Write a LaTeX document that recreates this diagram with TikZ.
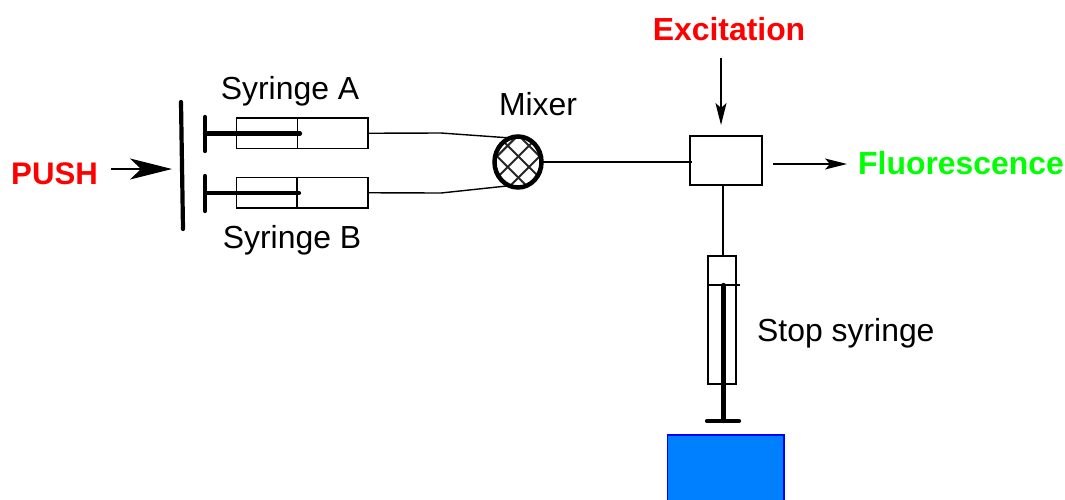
\documentclass[tikz,border=0pt]{standalone}
\usepackage{fontspec}
\setmainfont{Liberation Sans}
\usetikzlibrary{arrows.meta,shapes.geometric}
\definecolor{pushred}{RGB}{255,0,0}
\definecolor{fluogreen}{RGB}{0,255,0}
\definecolor{blockfill}{RGB}{0,128,255}
\tikzset{
  box/.style={draw=black,line width=1.5pt,rectangle,inner sep=0pt,outer sep=0pt},
  wire/.style={draw=black,line width=1.4pt},
  thin wire/.style={draw=black,line width=1.3pt},
  rod/.style={draw=black,line width=4.2pt,line cap=round},
  lbl/.style={inner sep=0pt,font=\fontsize{31.9}{36}\selectfont},
  hot/.style={inner sep=0pt,font=\fontsize{31.9}{36}\selectfont\bfseries},
  bigtip/.style={-{Stealth[length=42pt,width=21pt,inset=11pt]}},
  smalltip/.style={-{Stealth[length=22pt,width=11pt,inset=5pt]}},
}
\begin{document}
\begin{tikzpicture}[x=1pt,y=-1pt]
\useasboundingbox (0,0) rectangle (1065,499);

% labels
\node[hot,text=pushred,anchor=base west,font=\fontsize{31.2}{36}\selectfont\bfseries] (push) at (11,184) {PUSH};
\node[hot,text=pushred,anchor=base] (exc) at (729,40) {Excitation};
\node[hot,text=fluogreen,anchor=base west] (fluo) at (858,174) {Fluorescence};
\node[lbl,anchor=base] (la) at (290,99) {Syringe A};
\node[lbl,anchor=base] (lb) at (292,248) {Syringe B};
\node[lbl,anchor=base] (lm) at (538,115) {Mixer};
\node[lbl,anchor=base west] (ls) at (757,341) {Stop syringe};

% syringes A and B
\node[box,minimum width=131.5pt,minimum height=30.5pt] (sa) at (302.25,133.25) {};
\node[box,minimum width=131.5pt,minimum height=30.5pt] (sb) at (302.25,192.75) {};
\coordinate (satop) at (297.5,118);
\coordinate (sabot) at (297.5,148.5);
\coordinate (sbtop) at (297,177.5);
\coordinate (sbbot) at (297,208);
\draw[wire] (satop) -- (sabot);
\draw[wire] (sbtop) -- (sbbot);

% plungers
\coordinate (pat) at (205,117);
\coordinate (pab) at (205,151);
\coordinate (pa) at (205,133.5);
\coordinate (pae) at (300,133.5);
\coordinate (pbt) at (205,176);
\coordinate (pbb) at (205,211);
\coordinate (pb) at (205,193);
\coordinate (pbe) at (299,193);
\draw[rod] (pat) -- (pab);
\draw[rod] (pa) -- (pae);
\draw[rod] (pbt) -- (pbb);
\draw[rod] (pb) -- (pbe);

% push plate and arrow
\coordinate (pt) at (181,102);
\coordinate (pl) at (183,229);
\draw[rod] (pt) -- (pl);
\coordinate (pushs) at (111,169);
\coordinate (pushe) at (172,169);
\draw[thin wire,bigtip] (pushs) -- (pushe);

% mixer
\node[ellipse,draw=black,line width=4.5pt,minimum width=47pt,minimum height=51pt,inner sep=0pt,outer sep=0pt,
  path picture={
    \begin{scope}[shift={(path picture bounding box.center)}]
    \foreach \c in {-48,-26.6,-5.3,16,37.3}{
      \draw[black!85,line width=2pt] (\c+32,-32) -- (\c-32,32);
    }
    \foreach \d in {-58,-36.6,-15.3,6,27.3,48.6}{
      \draw[black!85,line width=2pt] (\d-32,-32) -- (\d+32,32);
    }
    \end{scope}
  }] (mixer) at (518,162) {};

% cell
\node[box,minimum width=72pt,minimum height=49pt] (cell) at (726,160.5) {};

% connectors
\coordinate (ka) at (441,133);
\coordinate (kb) at (441,193);
\draw[wire] (sa.east) -- (ka) -- (mixer.108);
\draw[wire] (sb.east) -- (kb) -- (mixer.-110);
\coordinate (cin) at (692,162);
\draw[wire] (mixer.east |- cin) -- (cin);

% arrows
\coordinate (exs) at (721,58);
\coordinate (exe) at (721,125);
\draw[wire,smalltip] (exs) -- (exe);
\coordinate (fls) at (773,164);
\coordinate (fle) at (847,164);
\draw[wire,smalltip] (fls) -- (fle);

% stop syringe
\node[box,minimum width=28pt,minimum height=128pt] (stop) at (722,320) {};
\coordinate (st) at (723,185);
\draw[wire] (st) -- (st |- stop.north);
\coordinate (cl) at (708,285);
\coordinate (cr) at (740,285);
\draw[wire] (cl) -- (cr);
\coordinate (rt) at (723.5,285);
\coordinate (rb) at (723.5,421);
\draw[rod] (rt) -- (rb);
\coordinate (bl) at (707,421);
\coordinate (br) at (739,421);
\draw[rod] (bl) -- (br);

% blue block
\node[rectangle,draw=blue,fill=blockfill,line width=1.2pt,inner sep=0pt,outer sep=0pt,minimum width=116.5pt,minimum height=70pt] (block) at (725.75,470) {};
\end{tikzpicture}
\end{document}
